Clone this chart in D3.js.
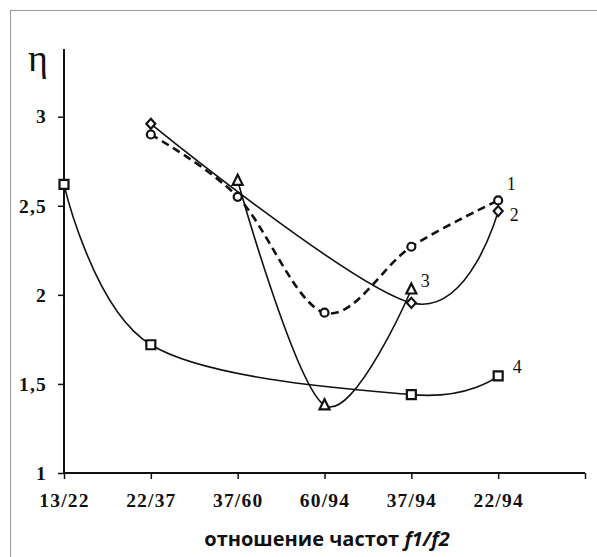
<!DOCTYPE html>
<html>
<head>
    <meta charset="utf-8">
    <title>η vs f1/f2</title>
    <script src="https://cdn.jsdelivr.net/npm/d3@7/dist/d3.min.js"></script>
    <style>
        body { margin: 0; background: #fff; }
        svg { display: block; }
    </style>
</head>
<body>
<svg width="597" height="557"></svg>
<script>
    const categories = ['13/22', '22/37', '37/60', '60/94', '37/94', '22/94'];
    const yTicks = [1, 1.5, 2, 2.5, 3];
    const yTickLabels = ['1', '1,5', '2', '2,5', '3'];

    // values per category, null = no point
    const series1 = [null, 2.90, 2.55, 1.90, 2.27, 2.53];   // circles, dashed
    const series2 = [null, 2.96, null, null, 1.955, 2.47];  // diamonds
    const series3 = [null, null, 2.64, 1.38, 2.03, null];   // triangles
    const series4 = [2.62, 1.72, null, null, 1.44, 1.545];  // squares

    const seriesNames = ['1', '2', '3', '4'];

    const serif = 'Liberation Serif';

    const svg = d3.select('svg');

    // outer frame of the picture
    svg.append('rect')
        .attr('x', 10.5).attr('y', 10.5)
        .attr('width', 620).attr('height', 620)
        .attr('fill', 'none')
        .attr('stroke', '#9a9a9a')
        .attr('stroke-width', 1);

    const x = d3.scaleLinear().domain([0, categories.length]).range([64, 585]);
    const y = d3.scaleLinear().domain([1, 3.38]).range([473, 49]);

    const styleAxis = sel => {
        sel.attr('font-family', serif).attr('font-size', 19.5).attr('font-weight', 'bold');
        sel.select('.domain').attr('stroke', '#111').attr('stroke-width', 2);
        sel.selectAll('.tick line').attr('stroke', '#111').attr('stroke-width', 1.5);
        sel.selectAll('.tick text').attr('fill', '#111').attr('letter-spacing', 1.2);
    };

    // y axis
    const yAxis = svg.append('g')
        .attr('transform', 'translate(64,0)')
        .call(d3.axisLeft(y).tickValues(yTicks).tickSize(6).tickPadding(11)
            .tickFormat((d, i) => yTickLabels[i]))
        .call(styleAxis);
    yAxis.select('.domain').attr('d', `M0,${y.range()[1]}V${y.range()[0]}`);

    // x axis
    const xAxis = svg.append('g')
        .attr('transform', 'translate(0,473)')
        .call(d3.axisBottom(x).tickValues(d3.range(categories.length + 1)).tickSize(6).tickPadding(14)
            .tickFormat(i => categories[i] || ''))
        .call(styleAxis);
    xAxis.select('.domain').attr('d', `M${x.range()[0]},0H${x.range()[1]}`);

    // axis titles
    svg.append('text')
        .attr('x', 38).attr('y', 71)
        .attr('text-anchor', 'middle')
        .attr('font-family', serif)
        .attr('font-size', 38)
        .attr('fill', '#111')
        .text('η');

    const xTitle = svg.append('text')
        .attr('x', 327).attr('y', 546)
        .attr('text-anchor', 'middle')
        .attr('font-family', 'Open Sans')
        .attr('font-weight', 'bold')
        .attr('font-size', 20)
        .attr('fill', '#111');
    xTitle.append('tspan').text('отношение частот ');
    xTitle.append('tspan').attr('font-style', 'italic').text('f1/f2');

    const toPoints = vals => vals.map((v, i) => ({ i, v })).filter(d => d.v !== null);

    const line = d3.line()
        .x(d => x(d.i))
        .y(d => y(d.v))
        .curve(d3.curveCardinal.tension(0));

    const allSeries = [
        { vals: series1, dash: '8,5', width: 2.6, marker: 'circle', label: [13, -16] },
        { vals: series2, dash: null, width: 1.6, marker: 'diamond', label: [16, 4] },
        { vals: series3, dash: null, width: 1.6, marker: 'triangle', label: [14, -9] },
        { vals: series4, dash: null, width: 1.6, marker: 'square', label: [19, -9] }
    ];

    const g = svg.append('g');

    allSeries.forEach(s => {
        g.append('path')
            .datum(toPoints(s.vals))
            .attr('d', line)
            .attr('fill', 'none')
            .attr('stroke', '#111')
            .attr('stroke-width', s.width)
            .attr('stroke-dasharray', s.dash);
    });

    const symbols = {
        circle: 'M-4,0A4,4 0 1,1 4,0A4,4 0 1,1 -4,0Z',
        diamond: 'M0,-5L4.5,0L0,5L-4.5,0Z',
        triangle: 'M0,-6L5,4L-5,4Z',
        square: 'M-4.5,-4.5H4.5V4.5H-4.5Z'
    };

    allSeries.forEach((s, k) => {
        const pts = toPoints(s.vals);
        g.selectAll(null)
            .data(pts)
            .enter().append('path')
            .attr('transform', d => `translate(${x(d.i)},${y(d.v)})`)
            .attr('d', symbols[s.marker])
            .attr('fill', '#fff')
            .attr('stroke', '#111')
            .attr('stroke-width', 2.2);

        const last = pts[pts.length - 1];
        svg.append('text')
            .attr('x', x(last.i) + s.label[0])
            .attr('y', y(last.v) + s.label[1])
            .attr('text-anchor', 'middle')
            .attr('dominant-baseline', 'central')
            .attr('font-family', serif)
            .attr('font-size', 18)
            .attr('fill', '#111')
            .text(seriesNames[k]);
    });
</script>
</body>
</html>
